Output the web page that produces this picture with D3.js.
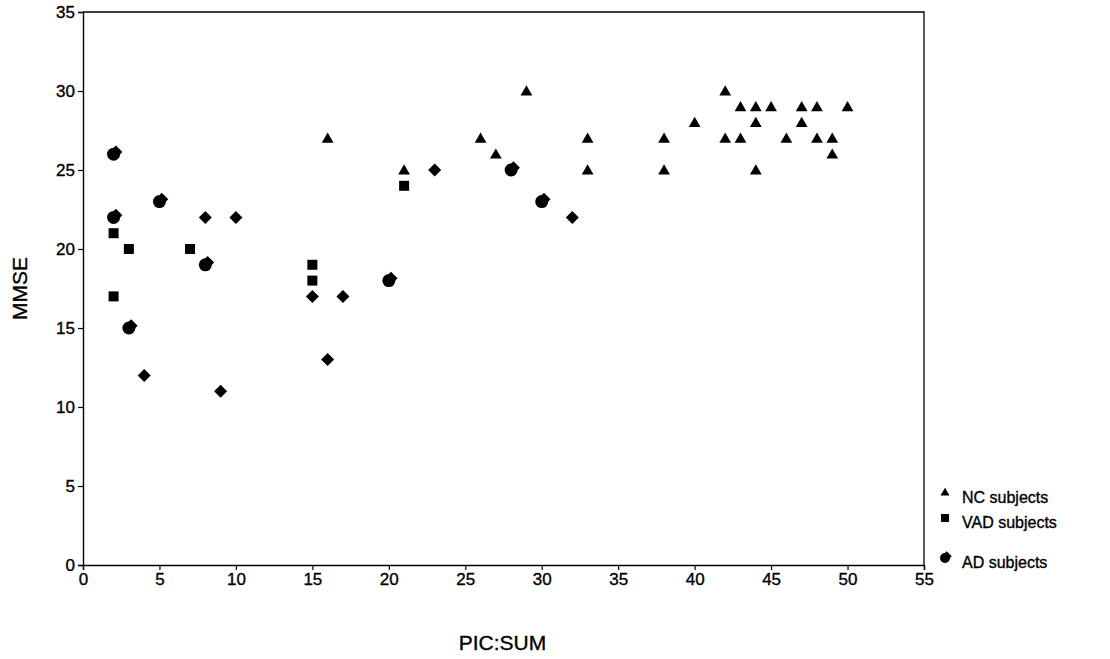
<!DOCTYPE html>
<html>
<head>
<meta charset="utf-8">
<script src="https://cdn.jsdelivr.net/npm/d3@7"></script>
<style>
  body { margin: 0; background: #fff; }
  text { font-family: "Liberation Sans", Arial, sans-serif; fill: #000; stroke: #000; stroke-width: 0.35px; }
</style>
</head>
<body>
<div class="chart"></div>
<script>
// PIC:SUM (x) vs MMSE (y)
const ncX  = [16, 21, 26, 27, 29, 33, 33, 38, 38, 40, 42, 42, 43, 43, 44, 44, 44, 45, 46, 47, 47, 48, 48, 49, 49, 50];
const ncY  = [27, 25, 27, 26, 30, 27, 25, 27, 25, 28, 30, 27, 29, 27, 29, 28, 25, 29, 27, 29, 28, 29, 27, 27, 26, 29];
const vadX = [2, 2, 3, 7, 15, 15, 21];
const vadY = [21, 17, 20, 20, 19, 18, 24];
const adX  = [2, 2, 3, 5, 8, 20, 28, 30];
const adY  = [26, 22, 15, 23, 19, 18, 25, 23];
const otherX = [4, 8, 9, 10, 15, 16, 17, 23, 32];
const otherY = [12, 22, 11, 22, 17, 13, 17, 25, 22];
const xTicks = [0, 5, 10, 15, 20, 25, 30, 35, 40, 45, 50, 55];
const yTicks = [0, 5, 10, 15, 20, 25, 30, 35];
const legendNames = ["NC subjects", "VAD subjects", "AD subjects"];

const width = 1110, height = 659;
const margin = {top: 12, right: 186, bottom: 94, left: 83};

const svg = d3.select('.chart').append('svg')
    .attr('width', width)
    .attr('height', height);

const xScale = d3.scaleLinear().domain([0, 55]).range([margin.left, width - margin.right]);
const yScale = d3.scaleLinear().domain([0, 35]).range([height - margin.bottom, margin.top]);

const pairs = (xs, ys) => xs.map((x, i) => ({x: x, y: ys[i]}));

// frame (top and right)
svg.append('path')
    .attr('d', `M${xScale(0)},${yScale(35)}H${xScale(55)}V${yScale(0)}`)
    .attr('fill', 'none')
    .attr('stroke', '#000')
    .attr('stroke-width', 1.3);

const xAxis = d3.axisBottom(xScale).tickValues(xTicks).tickSize(5).tickPadding(3);
const gx = svg.append('g')
    .attr('transform', `translate(0, ${yScale(0)})`)
    .call(xAxis);

const yAxis = d3.axisLeft(yScale).tickValues(yTicks).tickSize(5).tickPadding(3);
const gy = svg.append('g')
    .attr('transform', `translate(${xScale(0)}, 0)`)
    .call(yAxis);

[gx, gy].forEach(g => {
    g.select('.domain').attr('stroke', '#000').attr('stroke-width', 1.4);
    g.selectAll('.tick line').attr('stroke', '#000').attr('stroke-width', 1.2);
    g.selectAll('.tick text')
        .style('font-family', '"Liberation Sans", Arial, sans-serif')
        .style('font-size', '17px')
        .attr('fill', '#000');
});
gy.selectAll('.tick text').attr('dy', '0.35em');

// axis titles
svg.append('text')
    .attr('x', xScale(27.5) - 1)
    .attr('y', 650)
    .attr('text-anchor', 'middle')
    .style('font-size', '21px')
    .text('PIC:SUM');

svg.append('text')
    .attr('transform', `translate(27, ${yScale(17.5)}) rotate(-90)`)
    .attr('text-anchor', 'middle')
    .style('font-size', '21px')
    .text('MMSE');

// marker shapes
const tri = d3.symbol().type(d3.symbolTriangle).size(60);
const sq = d3.symbol().type(d3.symbolSquare).size(100);
const diamond = r => `M0,${-r}L${r},0L0,${r}L${-r},0Z`;

function drawAd(g, r) {
    g.append('path').attr('d', diamond(r)).attr('transform', `translate(${r * 0.35},${-r * 0.35})`);
    g.append('circle').attr('r', r);
}

// diamonds (unlabelled group)
svg.append('g').selectAll('path')
    .data(pairs(otherX, otherY))
    .enter().append('path')
    .attr('d', diamond(6.5))
    .attr('transform', d => `translate(${xScale(d.x)},${yScale(d.y)})`)
    .attr('fill', '#000');

svg.append('g').selectAll('g')
    .data(pairs(adX, adY))
    .enter().append('g')
    .attr('transform', d => `translate(${xScale(d.x)},${yScale(d.y)})`)
    .attr('fill', '#000')
    .each(function() { drawAd(d3.select(this), 6.5); });

svg.append('g').selectAll('path')
    .data(pairs(vadX, vadY))
    .enter().append('path')
    .attr('d', sq)
    .attr('transform', d => `translate(${xScale(d.x)},${yScale(d.y)})`)
    .attr('fill', '#000');

svg.append('g').selectAll('path')
    .data(pairs(ncX, ncY))
    .enter().append('path')
    .attr('d', tri)
    .attr('transform', d => `translate(${xScale(d.x)},${yScale(d.y) + 1})`)
    .attr('fill', '#000');

// legend
const legendY = [496, 521, 561];
const legend = svg.append('g');
legendNames.forEach((name, i) => {
    const g = legend.append('g').attr('transform', `translate(945, ${legendY[i] - 3})`).attr('fill', '#000');
    if (i === 0) g.append('path').attr('d', d3.symbol().type(d3.symbolTriangle).size(35)());
    if (i === 1) g.append('path').attr('d', d3.symbol().type(d3.symbolSquare).size(64)());
    if (i === 2) drawAd(g, 5);
    legend.append('text')
        .attr('x', 962)
        .attr('y', legendY[i] + 1)
        .attr('dy', '0.35em')
        .style('font-size', '16px')
        .text(name);
});
</script>
</body>
</html>
